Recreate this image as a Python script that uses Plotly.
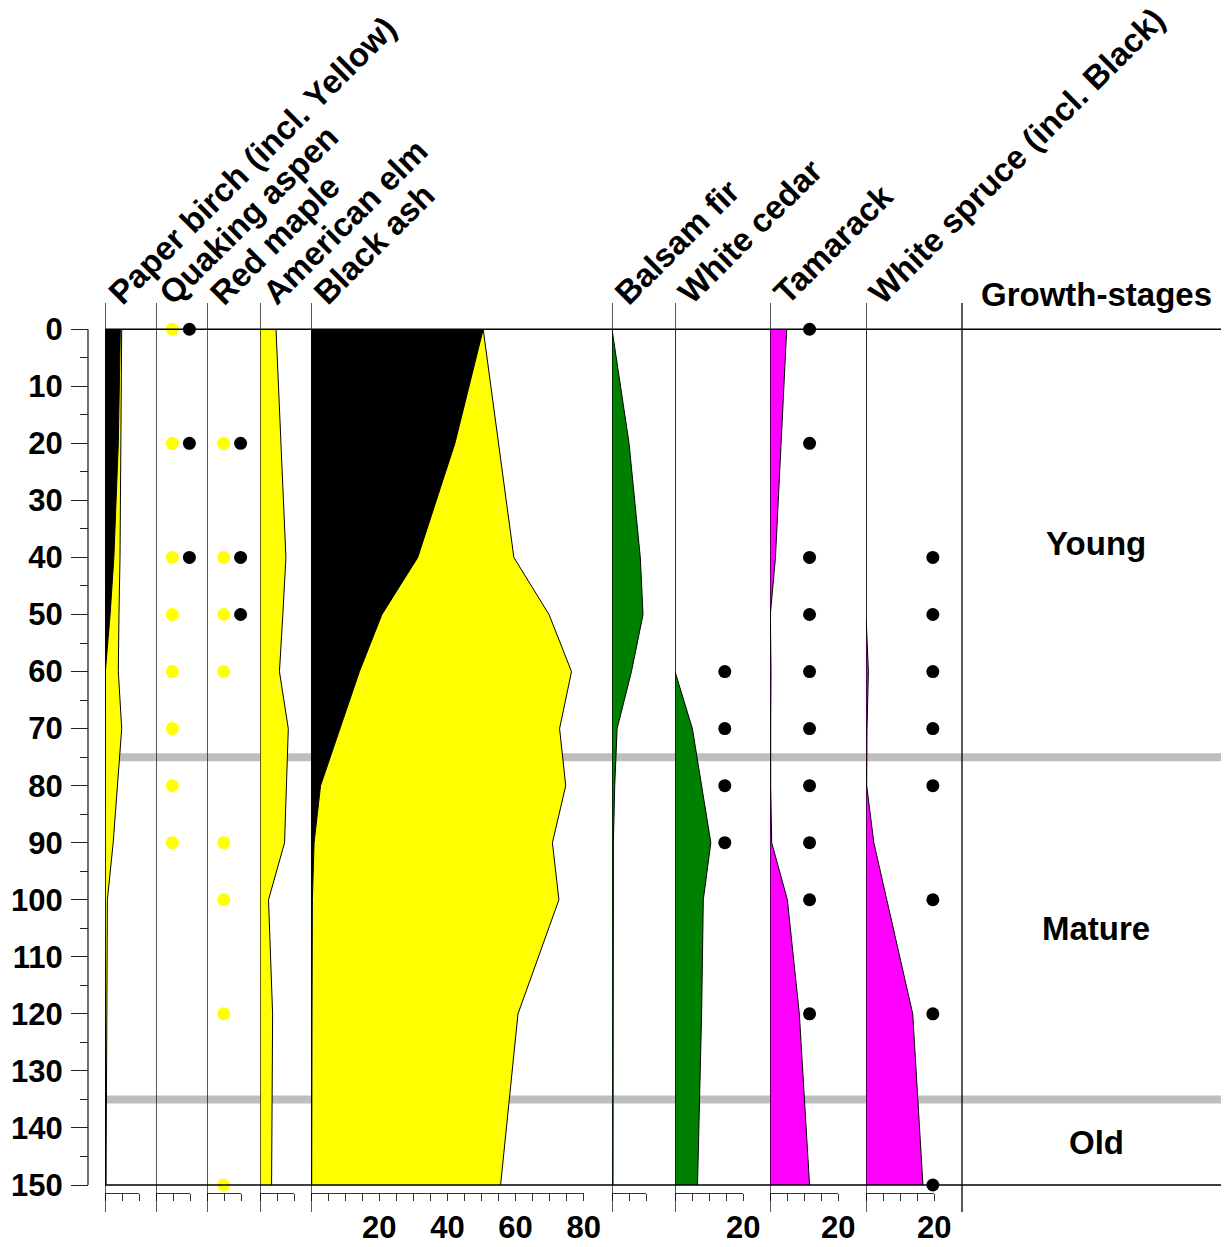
import plotly.graph_objects as go

# ---------------- data ----------------
depths = [0, 20, 40, 50, 60, 70, 80, 90, 100, 120, 150]

paper_birch_total = [4.9, 4.7, 4.4, 4.1, 3.9, 4.9, 3.7, 2.4, 0.7, 0.6, 0.3]
paper_birch_black = [4.5, 3.9, 2.6, 1.5, 0.1, 0.0, 0.0, 0.0, 0.0, 0.1, 0.2]
american_elm = [4.7, 6.2, 7.6, 6.7, 5.7, 8.3, 7.7, 7.2, 2.5, 3.7, 3.4]
black_ash_total = [50.5, 55.0, 59.5, 69.8, 76.4, 72.9, 74.7, 70.8, 72.7, 60.7, 55.6]
black_ash_black = [50.5, 42.2, 31.3, 20.8, 14.2, 8.5, 2.8, 0.9, 0.4, 0.3, 0.2]
balsam_fir = [0.0, 5.0, 8.3, 9.1, 5.7, 1.5, 0.8, 0.4, 0.4, 0.4, 0.3]
white_cedar = [0.0, 0.0, 0.0, 0.0, 0.0, 5.1, 7.7, 10.5, 8.3, 7.8, 6.6]
tamarack = [4.9, 3.3, 1.6, 0.1, 0.3, 0.2, 0.2, 0.5, 5.1, 8.6, 11.6]
white_spruce = [0.0, 0.0, 0.0, 0.0, 0.7, 0.3, 0.2, 2.3, 6.1, 13.7, 16.7]

# presence dots: depths where observed, and the column value they are plotted at
aspen_yellow_depths = [0, 20, 40, 50, 60, 70, 80, 90]
aspen_black_depths = [0, 20, 40]
maple_yellow_depths = [20, 40, 50, 60, 90, 100, 120, 150]
maple_black_depths = [20, 40, 50]
elm_black_depths = [20, 40, 50, 60, 70]
balsam_black_depths = [20, 40, 50, 60]
cedar_black_depths = [60, 70, 80, 90]
tamarack_black_depths = [0, 20, 40, 50, 60, 70, 80, 90, 100, 120]
spruce_black_depths = [40, 50, 60, 70, 80, 100, 120, 150]
dot_x = {"aspen_y": 4.8, "aspen_b": 9.8, "maple_y": 4.9, "maple_b": 9.85,
         "elm_b": 11.6, "balsam_b": 11.9, "cedar_b": 14.6, "tamarack_b": 11.6,
         "spruce_b": 19.6}

panel_names = ["Paper birch (incl. Yellow)", "Quaking aspen", "Red maple", "American elm",
               "Black ash", "Balsam fir", "White cedar", "Tamarack", "White spruce (incl. Black)"]
panel_max = [10, 10, 10, 10, 80, 10, 20, 20, 20]
panel_labels = [[], [], [], [], [20, 40, 60, 80], [], [20], [20], [20]]

depth_ticks = list(range(0, 151, 10))
stages = [("Young", 0, 75), ("Mature", 75, 135), ("Old", 135, 150)]

# ---------------- layout geometry (page pixels) ----------------
OFF = 8                      # page body margin
W, H = 1229 - OFF, 1247 - OFF
PLOT_TOP, PLOT_BOTTOM = 321 - OFF, 1193 - OFF
PXU = 3.41
panel_left_px = [105, 156, 207, 260, 311, 612, 675, 770, 866]
GROWTH_LINE_PX = 962
YAXIS_PX = 88
FONT = "Liberation Sans, Arial, sans-serif"


def px_x(px):
    return (px - OFF) / W


def px_y(px):
    return (PLOT_BOTTOM - (px - OFF)) / (PLOT_BOTTOM - PLOT_TOP)


YELLOW, BLACK, GREEN, MAGENTA = "#FFFF00", "#000000", "#008000", "#FF00FF"

fig = go.Figure()


def ax(i):
    return "x" if i == 1 else f"x{i}"


def add_fill(i, vals, color):
    fig.add_trace(go.Scatter(x=vals, y=depths, mode="lines", fill="tozerox",
                             fillcolor=color, line=dict(color="black", width=1),
                             xaxis=ax(i), yaxis="y", hoverinfo="skip"))


def add_dots(i, ds, xv, color):
    fig.add_trace(go.Scatter(x=[xv] * len(ds), y=ds, mode="markers",
                             marker=dict(size=13, color=color, line=dict(width=0)),
                             cliponaxis=False, xaxis=ax(i), yaxis="y", hoverinfo="skip"))


add_fill(1, paper_birch_total, YELLOW)
add_fill(1, paper_birch_black, BLACK)
add_dots(2, aspen_yellow_depths, dot_x["aspen_y"], YELLOW)
add_dots(2, aspen_black_depths, dot_x["aspen_b"], BLACK)
add_dots(3, maple_yellow_depths, dot_x["maple_y"], YELLOW)
add_dots(3, maple_black_depths, dot_x["maple_b"], BLACK)
add_fill(4, american_elm, YELLOW)
add_dots(4, elm_black_depths, dot_x["elm_b"], BLACK)
add_fill(5, black_ash_total, YELLOW)
add_fill(5, black_ash_black, BLACK)
add_fill(6, balsam_fir, GREEN)
add_dots(6, balsam_black_depths, dot_x["balsam_b"], BLACK)
add_fill(7, white_cedar, GREEN)
add_dots(7, cedar_black_depths, dot_x["cedar_b"], BLACK)
add_fill(8, tamarack, MAGENTA)
add_dots(8, tamarack_black_depths, dot_x["tamarack_b"], BLACK)
add_fill(9, white_spruce, MAGENTA)
add_dots(9, spruce_black_depths, dot_x["spruce_b"], BLACK)

layout = dict(
    width=W, height=H,
    margin=dict(l=0, r=0, t=PLOT_TOP, b=H - PLOT_BOTTOM, pad=0),
    paper_bgcolor="white", plot_bgcolor="rgba(0,0,0,0)",
    showlegend=False,
    font=dict(family=FONT, color="black"),
)

layout["yaxis"] = dict(
    range=[151.4, -1.45], anchor="free", position=px_x(YAXIS_PX), domain=[0, 1],
    tickmode="array", tickvals=depth_ticks, ticktext=[str(v) for v in depth_ticks],
    ticks="outside", ticklen=17, tickwidth=1.3, tickcolor="#222",
    minor=dict(tickmode="array", tickvals=[v + 5 for v in depth_ticks[:-1]],
               ticks="outside", ticklen=8, tickwidth=1.3, tickcolor="#222"),
    showline=False, showgrid=False, zeroline=False, automargin=False,
    tickfont=dict(family=FONT, size=31, color="black", weight="bold"),
    ticklabelstandoff=2,
)

n = len(panel_names)
for k in range(n):
    i = k + 1
    left = panel_left_px[k]
    wmax = panel_max[k]
    dom = [px_x(left), px_x(left + wmax * PXU)]
    tv = list(range(0, wmax + 1, 5))
    tt = [str(v) if v in panel_labels[k] else "" for v in tv]
    key = "xaxis" if i == 1 else f"xaxis{i}"
    layout[key] = dict(
        domain=dom, range=[0, wmax], anchor="y",
        tickmode="array", tickvals=tv, ticktext=tt,
        ticks="outside", ticklen=7, tickwidth=1.3, tickcolor="#333",
        showline=True, linecolor="#333", linewidth=1.3,
        showgrid=False, zeroline=False, automargin=False,
        tickfont=dict(family=FONT, size=31, color="black", weight="bold"),
        ticklabelstandoff=0,
    )
    layout[f"xaxis{i + n}"] = dict(
        overlaying=ax(i), side="top", range=[0, wmax], anchor="y",
        tickmode="array", tickvals=tv, ticks="inside", ticklen=3, tickwidth=1.3,
        tickcolor="#333", showticklabels=False,
        showline=True, linecolor="#333", linewidth=1.3,
        showgrid=False, zeroline=False, automargin=False,
    )

shapes = []
# growth-stage boundaries (grey bands, below the curves)
for name, d0, d1 in stages[:-1]:
    shapes.append(dict(type="line", xref="paper", yref="y", x0=px_x(panel_left_px[0]), x1=1,
                       y0=d1, y1=d1, line=dict(color="#BEBEBE", width=8), layer="below"))
# 0 and 150 lines
for d in (depth_ticks[0], depth_ticks[-1]):
    shapes.append(dict(type="line", xref="paper", yref="y", x0=px_x(panel_left_px[0]), x1=1,
                       y0=d, y1=d, line=dict(color="black", width=1.3), layer="above"))
# panel vertical lines
for k in range(n):
    shapes.append(dict(type="line", xref=ax(k + 1), yref="paper", x0=0, x1=0,
                       y0=px_y(1212), y1=px_y(303), line=dict(color="black", width=1.3),
                       layer="above"))
shapes.append(dict(type="line", xref="paper", yref="paper", x0=px_x(GROWTH_LINE_PX),
                   x1=px_x(GROWTH_LINE_PX), y0=px_y(1212), y1=px_y(303),
                   line=dict(color="black", width=1.3), layer="above"))
# depth axis line
shapes.append(dict(type="line", xref="paper", yref="y", x0=px_x(YAXIS_PX), x1=px_x(YAXIS_PX),
                   y0=depth_ticks[0], y1=depth_ticks[-1], line=dict(color="#222", width=1.3)))
layout["shapes"] = shapes

annotations = []
for k in range(n):
    annotations.append(dict(
        text=panel_names[k], xref="paper", yref="paper",
        x=px_x(panel_left_px[k] - 7), y=px_y(314), xanchor="left", yanchor="bottom",
        textangle=-45, showarrow=False,
        font=dict(family=FONT, size=33, color="black", weight="bold")))
annotations.append(dict(text="Growth-stages", xref="paper", yref="paper",
                        x=px_x(1096), y=px_y(294), xanchor="center", yanchor="middle",
                        showarrow=False,
                        font=dict(family=FONT, size=33, color="black", weight="bold")))
for name, d0, d1 in stages:
    annotations.append(dict(text=name, xref="paper", yref="y", x=px_x(1096), y=(d0 + d1) / 2,
                            xanchor="center", yanchor="middle", showarrow=False,
                            font=dict(family=FONT, size=33, color="black", weight="bold")))
layout["annotations"] = annotations

fig.update_layout(**layout)
fig.write_html("out.html")
